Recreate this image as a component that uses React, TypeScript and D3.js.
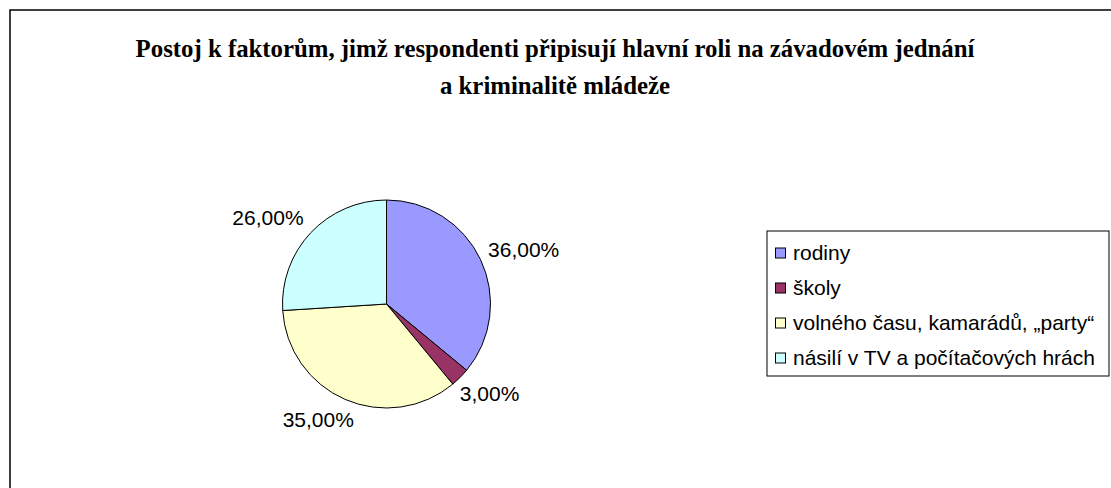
import React from "react";
import * as d3 from "d3";

const categories = [
  "rodiny",
  "školy",
  "volného času, kamarádů, „party“",
  "násilí v TV a počítačových hrách",
];
const values = [36, 3, 35, 26];
const colors = ["#9999FF", "#993366", "#FFFFCC", "#CCFFFF"];
const titleLines = [
  "Postoj k faktorům, jimž respondenti připisují hlavní roli na závadovém jednání",
  "a kriminalitě mládeže",
];

const W = 1111;
const H = 488;
const cx = 386.5;
const cy = 304;
const R = 104;
const labelFont = 21;

function measure(text: string, font: string): number {
  try {
    const c = document.createElement("canvas");
    const ctx = c.getContext("2d");
    if (ctx) {
      ctx.font = font;
      return ctx.measureText(text).width;
    }
  } catch (e) {}
  return text.length * 11;
}

const fmt = (v: number) => v.toFixed(2).replace(".", ",") + "%";

export default function App() {
  const total = d3.sum(values);
  const pie = d3
    .pie<number>()
    .sort(null)
    .value((d) => d)
    .startAngle(0)
    .endAngle(2 * Math.PI);
  const arcs = pie(values);
  const arcGen = d3.arc<d3.PieArcDatum<number>>().innerRadius(0).outerRadius(R);

  const legendX = 767;
  const legendY = 231;
  const legendW = 342;
  const rowH = 35;
  const legendH = 145;

  return (
    <svg
      width={W}
      height={H}
      style={{ position: "absolute", left: 0, top: 0, background: "#fff" }}
      fontFamily="'Liberation Sans', Arial, sans-serif"
    >
      <rect x={0} y={0} width={W} height={H} fill="#fff" />
      <rect x={10} y={10} width={W + 20} height={H + 20} fill="none" stroke="#000" strokeWidth={1.5} />
      {titleLines.map((t, i) => (
        <text
          key={i}
          x={555}
          y={57 + i * 37}
          textAnchor="middle"
          fontFamily="'Liberation Serif', 'Times New Roman', serif"
          fontWeight="bold"
          fontSize={24.8}
          fill="#000"
        >
          {t}
        </text>
      ))}
      <g transform={`translate(${cx},${cy})`}>
        {arcs.map((a, i) => (
          <path key={i} d={arcGen(a) || ""} fill={colors[i]} stroke="#000" strokeWidth={1} />
        ))}
      </g>
      {arcs.map((a, i) => {
        const mid = (a.startAngle + a.endAngle) / 2;
        const dx = Math.sin(mid);
        const dy = -Math.cos(mid);
        const label = fmt((values[i] / total) * 100);
        const w = measure(label, `${labelFont}px 'Liberation Sans', Arial, sans-serif`);
        const h = labelFont;
        const px = cx + (R + 12) * dx;
        const py = cy + (R + 12) * dy;
        const lx = px + (dx * w) / 2 - (dx < 0 ? 8 : 0);
        const ly = py + (dy * h) / 2;
        return (
          <text
            key={i}
            x={lx}
            y={ly}
            dy="0.35em"
            textAnchor="middle"
            fontSize={labelFont}
            fill="#000"
          >
            {label}
          </text>
        );
      })}
      <rect
        x={legendX}
        y={legendY}
        width={legendW}
        height={legendH}
        fill="#fff"
        stroke="#000"
        strokeWidth={1}
      />
      {categories.map((c, i) => {
        const yc = legendY + 22 + i * rowH;
        return (
          <g key={i}>
            <rect x={775.5} y={yc - 5} width={10} height={10} fill={colors[i]} stroke="#000" strokeWidth={1} />
            <text x={793} y={yc} dy="0.35em" fontSize={labelFont} fill="#000">
              {c}
            </text>
          </g>
        );
      })}
    </svg>
  );
}
